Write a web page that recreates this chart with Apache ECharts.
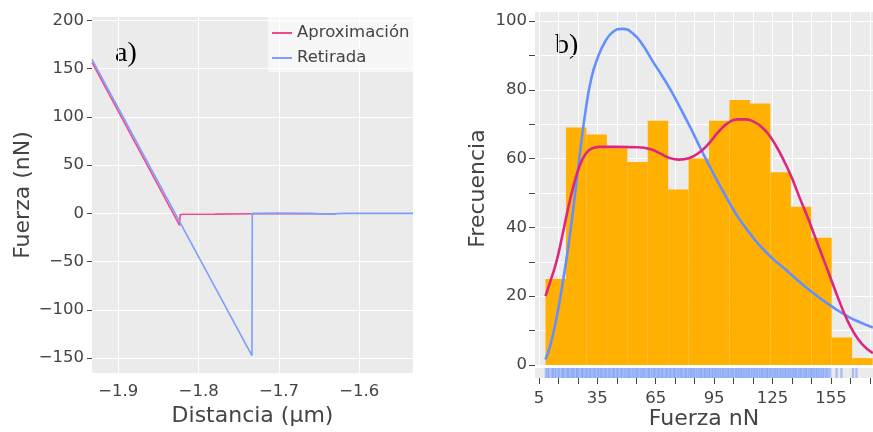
<!DOCTYPE html>
<html>
<head>
<meta charset="utf-8">
<script src="https://cdn.jsdelivr.net/npm/echarts@6/dist/echarts.min.js"></script>
<style>
html,body{margin:0;padding:0;background:#fff;}
#c{width:873px;height:432px;}
</style>
</head>
<body>
<div id="c"></div>
<script>
// ---------- Panel a) : force curve ----------
const aproxData = [[-1.9327, 156.5], [-1.8237, -12.5], [-1.8231, -1.6], [-1.8200, -1.0], [-1.7800, -0.8], [-1.7335, -0.4], [-1.7000, -0.2], [-1.6500, -0.4], [-1.6290, -0.6]];
const retirData = [[-1.9327, 159.5], [-1.7336, -147.5], [-1.7332, 0.0], [-1.6600, 0.0], [-1.6500, -0.6], [-1.6300, -0.6], [-1.6200, 0.0], [-1.5332, 0.0]];
const aXTicks = [-1.9, -1.8, -1.7, -1.6];
const aYTicks = [-150, -100, -50, 0, 50, 100, 150, 200];

// ---------- Panel b) : histogram ----------
const binEdges = [8.4, 18.9, 29.4, 39.9, 50.4, 60.9, 71.4, 81.9, 92.4, 102.9, 113.4, 123.9, 134.4, 144.9, 155.4, 165.9, 176.4];
const binCounts = [25, 69, 67, 63, 59, 71, 51, 60, 71, 77, 76, 56, 46, 37, 8, 2];
const blueCurve = [[8.4, 1.6], [11, 6], [14, 13.5], [17, 23], [20, 34], [23, 47], [26, 61], [29, 74], [32, 83.5], [35, 89], [39, 94], [43, 96.8], [48, 97.7], [53, 96.5], [58, 93.3], [63, 88.7], [68, 84.3], [73, 79.6], [78, 74.3], [83, 68.8], [88, 63], [93, 57.4], [98, 52.1], [103, 47], [108, 42.4], [113, 38.5], [118, 35], [125, 31], [132, 27.6], [140, 23.6], [148, 20], [156, 16.8], [164, 14], [170, 12.4], [176.5, 10.9]];
const pinkCurve = [[8.4, 20], [11, 24.5], [14, 30], [17, 37.5], [20, 45.5], [23, 52.5], [26, 58], [29, 61.3], [32, 62.9], [36, 63.4], [45, 63.4], [55, 63.3], [62, 62.8], [67, 61.6], [72, 60.2], [77, 59.7], [82, 60.1], [87, 61.6], [92, 64.2], [97, 67.6], [102, 70.3], [107, 71.4], [111, 71.4], [115, 70.8], [119, 69.4], [123, 67], [127, 63.5], [131, 59.2], [135, 54.3], [139, 48.5], [143, 43], [147, 37], [151, 31], [155, 25], [159, 19], [163, 13.5], [167, 9.2], [171, 6.1], [176.5, 3.4]];
const rugValues = [8.6, 9.5, 10.3, 11.6, 12.2, 13.1, 13.9, 15.0, 15.6, 16.8, 17.4, 18.1, 19.2, 19.9, 20.5, 21.6, 22.3, 22.9, 24.0, 24.7, 25.3, 26.4, 27.2, 27.8, 28.9, 29.5, 30.4, 31.3, 31.9, 33.0, 33.6, 34.5, 35.4, 36.1, 37.0, 37.6, 38.7, 39.3, 40.2, 41.1, 41.8, 42.9, 43.4, 44.3, 45.2, 45.8, 46.9, 47.5, 48.4, 49.3, 50.1, 51.0, 51.6, 52.5, 53.4, 54.2, 55.1, 55.7, 56.6, 57.5, 58.3, 59.0, 59.9, 61.0, 61.5, 62.4, 63.3, 64.2, 64.8, 65.9, 66.5, 67.4, 68.3, 68.9, 70.0, 70.6, 71.5, 72.4, 73.1, 74.2, 74.7, 75.6, 76.5, 77.3, 78.2, 78.8, 79.9, 80.5, 81.4, 82.3, 83.0, 83.9, 84.6, 85.5, 86.4, 87.2, 88.1, 88.7, 89.8, 90.4, 91.3, 92.2, 92.9, 93.9, 94.6, 95.5, 96.2, 97.1, 97.9, 98.8, 99.6, 100.3, 101.3, 102.1, 102.8, 103.8, 104.5, 105.4, 106.3, 107.0, 107.9, 108.7, 109.5, 110.4, 111.2, 112.1, 112.8, 113.7, 114.6, 115.4, 116.2, 117.0, 117.9, 118.8, 119.6, 120.3, 121.3, 122.1, 122.8, 123.8, 124.5, 125.5, 126.2, 127.1, 127.8, 128.8, 129.5, 130.4, 131.3, 132.0, 133.0, 133.7, 134.6, 135.5, 136.3, 137.0, 137.9, 138.9, 139.5, 140.4, 141.4, 142.1, 142.9, 143.9, 144.7, 145.5, 146.3, 147.3, 148.0, 148.9, 149.8, 150.7, 151.5, 152.6, 153.4, 154.6, 157.9, 160.4, 166.3, 168.1];
const bXTicks = [5, 15, 25, 35, 45, 55, 65, 75, 85, 95, 105, 115, 125, 135, 145, 155, 165, 175];
const bXLabels = [5, 35, 65, 95, 125, 155];
const bYTicks = [0, 10, 20, 30, 40, 50, 60, 70, 80, 90, 100];
const bYLabels = [0, 20, 40, 60, 80, 100];

const FONT = 'DejaVu Sans';
const TXT = '#444';
const fmtMinus = v => (v < 0 ? '\u2212' + String(Math.abs(v)) : String(v));

const chart = echarts.init(document.getElementById('c'), null, {renderer: 'canvas'});
const bins = binCounts.map((c, i) => [binEdges[i], binEdges[i + 1], c]);

chart.setOption({
  animation: false,
  textStyle: {fontFamily: FONT},
  grid: [
    {left: 92, top: 17, width: 321, height: 361, show: true, backgroundColor: '#EBEBEB', borderWidth: 0},
    {left: 535, top: 12, width: 338, height: 353, show: true, backgroundColor: '#EBEBEB', borderWidth: 0},
    {left: 535, top: 368, width: 338, height: 10, show: true, backgroundColor: '#EBEBEB', borderWidth: 0}
  ],
  legend: {
    left: 268, top: 17, orient: 'vertical',
    padding: [7, 4, 5, 4], itemGap: 7, itemWidth: 20, itemHeight: 2,
    backgroundColor: 'rgba(255,255,255,0.62)',
    icon: 'rect',
    textStyle: {fontFamily: FONT, fontSize: 16.5, color: TXT, lineHeight: 18},
    data: ['Aproximación', 'Retirada']
  },
  xAxis: [
    {gridIndex: 0, type: 'value', min: -1.9327, max: -1.5332,
     axisLine: {show: false}, axisTick: {show: false, customValues: aXTicks},
     axisLabel: {customValues: aXTicks, formatter: fmtMinus, fontFamily: FONT, fontSize: 16.5, color: TXT, margin: 10},
     splitLine: {show: true, lineStyle: {color: '#fff', width: 1}},
     name: 'Distancia (µm)', nameLocation: 'middle', nameGap: 29,
     nameTextStyle: {fontFamily: FONT, fontSize: 22, color: TXT}},
    {gridIndex: 1, type: 'value', min: 3, max: 176.6,
     axisLine: {show: false}, axisTick: {show: false, customValues: bXTicks},
     axisLabel: {show: false, customValues: bXTicks},
     splitLine: {show: true, lineStyle: {color: '#fff', width: 1}}},
    {gridIndex: 2, type: 'value', min: 3, max: 176.6,
     axisLine: {show: false},
     axisTick: {show: true, customValues: bXTicks, length: 6, lineStyle: {color: TXT, width: 1}},
     axisLabel: {customValues: bXLabels, fontFamily: FONT, fontSize: 16.5, color: TXT, margin: 12},
     splitLine: {show: false},
     name: 'Fuerza nN', nameLocation: 'middle', nameGap: 30,
     nameTextStyle: {fontFamily: FONT, fontSize: 22, color: TXT}}
  ],
  yAxis: [
    {gridIndex: 0, type: 'value', min: -165.6, max: 203.5,
     axisLine: {show: false},
     axisTick: {show: true, customValues: aYTicks, length: 5, lineStyle: {color: TXT}},
     axisLabel: {customValues: aYTicks, formatter: fmtMinus, fontFamily: FONT, fontSize: 16.5, color: TXT, margin: 8},
     splitLine: {show: true, lineStyle: {color: '#fff', width: 1}},
     name: 'Fuerza (nN)', nameLocation: 'middle', nameGap: 58,
     nameTextStyle: {fontFamily: FONT, fontSize: 22, color: TXT}},
    {gridIndex: 1, type: 'value', min: 0, max: 102.6,
     axisLine: {show: false},
     axisTick: {show: true, customValues: bYTicks, length: 6, lineStyle: {color: TXT}},
     axisLabel: {customValues: bYLabels, fontFamily: FONT, fontSize: 16.5, color: TXT, margin: 8},
     splitLine: {show: true, lineStyle: {color: '#fff', width: 1}},
     name: 'Frecuencia', nameLocation: 'middle', nameGap: 46,
     nameTextStyle: {fontFamily: FONT, fontSize: 22, color: TXT}},
    {gridIndex: 2, type: 'value', min: 0, max: 1, show: false}
  ],
  graphic: [
    {type: 'text', left: 115, top: 40, style: {text: 'a)', font: '28px "Liberation Serif"', fill: '#000'}},
    {type: 'text', left: 555, top: 32, style: {text: 'b)', font: '28px "Liberation Serif"', fill: '#000'}}
  ],
  series: [
    {name: 'Aproximación', type: 'line', xAxisIndex: 0, yAxisIndex: 0, data: aproxData,
     showSymbol: false, symbol: 'none', lineStyle: {color: '#EE4B8F', width: 1.6}, itemStyle: {color: '#EE4B8F'}, z: 3},
    {name: 'Retirada', type: 'line', xAxisIndex: 0, yAxisIndex: 0, data: retirData,
     showSymbol: false, symbol: 'none', lineStyle: {color: '#7B9FFB', width: 1.6}, itemStyle: {color: '#7B9FFB'}, z: 4},
    {type: 'custom', xAxisIndex: 1, yAxisIndex: 1, data: bins,
     encode: {x: [0, 1], y: 2},
     renderItem: function (params, api) {
       const p0 = api.coord([api.value(0), api.value(2)]);
       const p1 = api.coord([api.value(1), 0]);
       return {type: 'rect', shape: {x: p0[0], y: p0[1], width: p1[0] - p0[0], height: p1[1] - p0[1]},
               style: {fill: '#FFB000'}};
     }, z: 2},
    {type: 'line', xAxisIndex: 1, yAxisIndex: 1, data: blueCurve, smooth: 0.5,
     symbol: 'none', lineStyle: {color: '#648FFF', width: 2.6}, z: 5},
    {type: 'line', xAxisIndex: 1, yAxisIndex: 1, data: pinkCurve, smooth: 0.5,
     symbol: 'none', lineStyle: {color: '#DC267F', width: 2.6}, z: 6},
    {type: 'scatter', xAxisIndex: 2, yAxisIndex: 2, data: rugValues.map(v => [v, 0.5]),
     symbol: 'rect', symbolSize: [2.4, 10], itemStyle: {color: 'rgba(100,143,255,0.62)'}, silent: true}
  ]
});
</script>
</body>
</html>
